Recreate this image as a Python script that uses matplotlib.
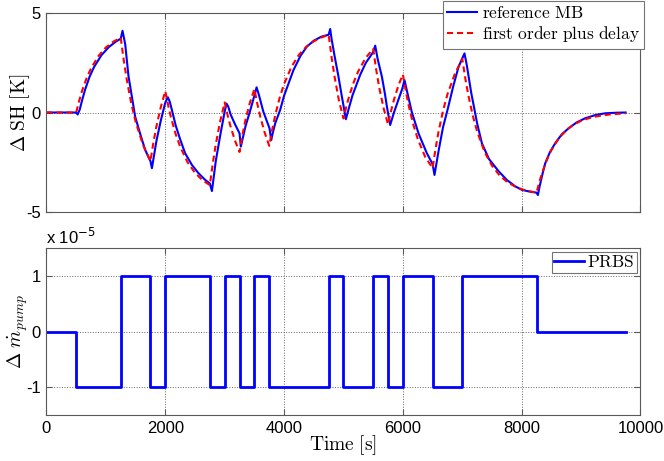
import numpy as np
import matplotlib
matplotlib.use('Agg')
import matplotlib.pyplot as plt

plt.rcParams['mathtext.fontset'] = 'cm'
plt.rcParams['axes.unicode_minus'] = False
plt.rcParams['font.family'] = ['Liberation Sans', 'DejaVu Sans']

# superheat response, reference moving-boundary model (t [s], dSH [K])
ref_mb = [(0, 0.0), (500, 0.0), (525, -0.10), (560, 0.15), (600, 0.62), (650, 1.15),
          (725, 1.80), (800, 2.29), (925, 2.89), (1050, 3.30), (1175, 3.59), (1250, 3.72),
          (1280, 4.12), (1325, 3.45), (1380, 1.85), (1493, -0.21), (1580, -1.10),
          (1662, -1.89), (1750, -2.45), (1775, -2.81), (1800, -2.35), (1850, -1.45),
          (1925, -0.40), (2000, 0.50), (2043, 0.77), (2075, 0.55), (2111, 0.13),
          (2175, -0.65), (2250, -1.35), (2335, -2.06), (2450, -2.65), (2559, -3.06),
          (2672, -3.40), (2750, -3.58), (2785, -3.96), (2800, -3.62), (2850, -2.45),
          (2925, -1.15), (3000, 0.05), (3030, 0.45), (3060, 0.30), (3100, -0.10),
          (3175, -0.60), (3250, -1.05), (3272, -1.72), (3300, -1.35), (3350, -0.70),
          (3425, 0.05), (3500, 0.85), (3537, 1.27), (3575, 0.90), (3650, 0.05),
          (3755, -0.80), (3783, -1.39), (3800, -1.15), (3850, -0.55), (3934, 0.13),
          (4000, 0.85), (4158, 2.14), (4275, 2.85), (4383, 3.32), (4500, 3.62),
          (4625, 3.82), (4750, 3.92), (4776, 4.21), (4800, 3.70), (4850, 2.85),
          (4916, 1.80), (4973, 0.80), (5000, 0.35), (5040, -0.34), (5075, 0.05),
          (5150, 0.85), (5281, 1.90), (5375, 2.50), (5500, 3.05), (5534, 3.37),
          (5575, 2.70), (5647, 1.80), (5700, 0.90), (5731, 0.29), (5786, -0.63),
          (5850, 0.00), (5925, 0.65), (5990, 1.20), (6027, 1.64), (6075, 1.00),
          (6150, 0.02), (6263, -1.05), (6404, -2.06), (6500, -2.60), (6532, -3.15),
          (6600, -1.95), (6675, -0.75), (6751, 0.13), (6850, 1.35), (6937, 2.30),
          (7037, 2.98), (7075, 2.40), (7150, 1.00), (7250, -0.55), (7330, -1.55),
          (7450, -2.35), (7609, -2.95), (7750, -3.40), (7890, -3.72), (8003, -3.90),
          (8125, -3.98), (8250, -4.04), (8273, -4.16), (8300, -3.75), (8350, -3.10),
          (8396, -2.56), (8475, -2.00), (8564, -1.55), (8675, -1.10), (8788, -0.80),
          (8925, -0.50), (9069, -0.29), (9250, -0.12), (9405, -0.04), (9600, -0.01),
          (9750, 0.00)]

# first order plus delay fit
fopd = [(0, 0.0), (500, 0.0), (550, 0.59), (600, 1.10), (675, 1.73), (750, 2.23),
        (875, 2.85), (1000, 3.28), (1125, 3.57), (1250, 3.77), (1300, 2.65),
        (1350, 1.69), (1425, 0.49), (1500, -0.46), (1625, -1.64), (1750, -2.45),
        (1800, -1.52), (1850, -0.71), (1925, 0.28), (2000, 1.08), (2050, 0.34),
        (2100, -0.30), (2175, -1.09), (2250, -1.72), (2375, -2.51), (2500, -3.04),
        (2625, -3.41), (2750, -3.66), (2800, -2.56), (2850, -1.61), (2925, -0.43),
        (3000, 0.51), (3050, -0.15), (3100, -0.72), (3175, -1.43), (3250, -1.99),
        (3300, -1.12), (3350, -0.37), (3425, 0.50), (3500, 1.18), (3550, 0.43),
        (3600, -0.22), (3675, -1.03), (3750, -1.68), (3800, -0.86), (3850, -0.15),
        (3925, 0.74), (4000, 1.44), (4125, 2.31), (4250, 2.91), (4375, 3.32),
        (4500, 3.59), (4625, 3.78), (4750, 3.92), (4800, 2.78), (4850, 1.80),
        (4925, 0.58), (5000, -0.30), (5050, 0.33), (5100, 0.87), (5175, 1.55),
        (5250, 2.09), (5375, 2.76), (5500, 3.21), (5550, 2.17), (5600, 1.28),
        (5675, 0.22), (5750, -0.60), (5800, 0.07), (5850, 0.65), (5925, 1.37),
        (6000, 1.92), (6050, 1.06), (6100, 0.32), (6175, -0.60), (6250, -1.33),
        (6375, -2.24), (6500, -2.80), (6550, -1.82), (6600, -0.97), (6675, 0.08),
        (6750, 0.92), (6875, 1.95), (7000, 2.70), (7050, 1.73), (7100, 0.90),
        (7175, -0.14), (7250, -0.96), (7375, -1.99), (7500, -2.68), (7625, -3.16),
        (7750, -3.49), (7875, -3.71), (8000, -3.87), (8125, -3.97), (8250, -4.04),
        (8300, -3.47), (8350, -2.99), (8425, -2.38), (8500, -1.89), (8625, -1.30),
        (8750, -0.89), (8875, -0.61), (9000, -0.42), (9125, -0.29), (9250, -0.20),
        (9500, -0.09), (9750, -0.04)]

# PRBS pump mass-flow input, in units of 1e-5
prbs_t = [0, 500, 1250, 1750, 2000, 2750, 3000, 3250, 3500, 3750,
          4750, 5000, 5500, 5750, 6000, 6500, 7000, 8250, 9750]
prbs_u = [0, -1, 1, -1, 1, -1, 1, -1, 1, -1,
          1, -1, 1, -1, 1, -1, 1, 0, 0]

x_ticks = [0, 2000, 4000, 6000, 8000, 10000]

fig = plt.figure(figsize=(6.64, 4.61), dpi=100)
ax1 = fig.add_axes([0.0700, 0.5408, 0.8946, 0.4303])
ax2 = fig.add_axes([0.0700, 0.0998, 0.8946, 0.3616])

t_mb, y_mb = zip(*ref_mb)
t_fo, y_fo = zip(*fopd)
ax1.plot(t_mb, y_mb, color='#0000ff', lw=1.5, label=r'$\mathrm{reference\ MB}$')
ax1.plot(t_fo, y_fo, color='#ff0000', lw=1.5, ls=(0, (2.9, 1.9)),
         label=r'$\mathrm{first\ order\ plus\ delay}$')
ax1.set_ylim(-5, 5)
ax1.set_yticks([-5, 0, 5])
ax1.set_ylabel(r'$\Delta\ \mathrm{SH}\ [\mathrm{K}]$', fontsize=14, va='center')
ax1.yaxis.set_label_coords(-0.045, 0.5)
ax1.set_xticklabels([])
leg1 = ax1.legend(loc='upper right', bbox_to_anchor=(1.006, 1.064), fontsize=12.5,
                  fancybox=False, edgecolor='0.45', framealpha=1, borderpad=0.25,
                  handlelength=1.7, handletextpad=0.3, labelspacing=0.2, borderaxespad=0)
leg1.get_frame().set_linewidth(0.8)

ax2.plot(prbs_t, prbs_u, color='#0000ff', lw=2, drawstyle='steps-post', label=r'$\mathrm{PRBS}$')
ax2.set_ylim(-1.5, 1.5)
ax2.set_yticks([-1, 0, 1])
ax2.set_ylabel(r'$\Delta\ \dot{m}_{pump}$', fontsize=14, va='center')
ax2.yaxis.set_label_coords(-0.048, 0.5)
ax2.set_xlabel(r'$\mathrm{Time}\ [\mathrm{s}]$', fontsize=14, va='center')
ax2.xaxis.set_label_coords(0.5, -0.18)
ax2.text(0.0, 1.025, r'x 10$^{-5}$', transform=ax2.transAxes, fontsize=12,
         va='baseline', ha='left', math_fontfamily='dejavusans')
leg2 = ax2.legend(loc='upper right', bbox_to_anchor=(0.9936, 0.9796), fontsize=12.5,
                  fancybox=False, edgecolor='0.45', framealpha=1, borderpad=0.15,
                  handlelength=1.7, handletextpad=0.15, borderaxespad=0)
leg2.get_frame().set_linewidth(0.8)

for ax in (ax1, ax2):
    ax.set_xlim(0, 10000)
    ax.set_xticks(x_ticks)
    ax.grid(True, ls=':', color='0.4', lw=0.7)
    ax.tick_params(direction='in', top=True, right=True, length=4, color='0.35',
                   labelsize=12, pad=4)
    for s in ax.spines.values():
        s.set_color('0.35')
        s.set_linewidth(0.8)

fig.savefig('out.png', dpi=100)
